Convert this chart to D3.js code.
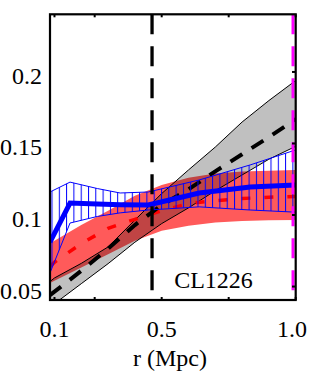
<!DOCTYPE html>
<html>
<head>
<meta charset="utf-8">
<script src="https://cdn.jsdelivr.net/npm/d3@7"></script>
<style>
  body { margin: 0; background: #fff; }
  text { font-family: "Liberation Serif", "Times New Roman", serif; fill: #000; }
</style>
</head>
<body>
<svg id="chart" width="309" height="384"></svg>
<script>
// radius grid of the model bands (Mpc)
var rModel = [0.0833, 0.1, 0.2, 0.3, 0.4, 0.5, 0.6, 0.7, 0.8, 0.9, 1.0];

// grey band + black dashed model
var greyMid = [0.0440, 0.0464, 0.061, 0.0765, 0.093, 0.107, 0.118, 0.1305, 0.1425, 0.1545, 0.167];
var greyLo  = [0.036, 0.038, 0.052, 0.066, 0.081, 0.094, 0.105, 0.117, 0.128, 0.139, 0.148];
var greyHi  = [0.0535, 0.056, 0.0662, 0.0777, 0.0965, 0.115, 0.1315, 0.1475, 0.165, 0.180, 0.194];

// red band + red dashed model
var redMid = [0.064, 0.067, 0.080, 0.0907, 0.097, 0.103, 0.108, 0.110, 0.1115, 0.1125, 0.113];
var redLo  = [0.0525, 0.054, 0.0633, 0.0725, 0.082, 0.089, 0.0925, 0.0947, 0.0958, 0.0963, 0.0966];
var redHi  = [0.0805, 0.082, 0.093, 0.103, 0.1135, 0.121, 0.126, 0.129, 0.1305, 0.131, 0.1315];

// blue measured profile with hatched errors
var rBlue   = [0.0833, 0.158, 0.26, 0.345, 0.45, 0.64, 0.83, 1.0];
var blueMid = [0.081, 0.1084, 0.1077, 0.1072, 0.107, 0.1154, 0.1196, 0.121];
var blueLo  = [0.0595, 0.0944, 0.099, 0.1015, 0.1035, 0.1057, 0.1035, 0.102];
var blueHi  = [0.1161, 0.123, 0.1185, 0.1154, 0.1161, 0.1245, 0.135, 0.1455];

var xTicks = [0.1, 0.25, 0.5, 0.75, 1.0];
var xTickLabels = ["0.1", "0.5", "1.0"];
var yTicks = [0.05, 0.1, 0.15, 0.2];
var yTickLabels = ["0.05", "0.1", "0.15", "0.2"];
var rVert = 0.464;   // black dashed vertical
var rEdge = 0.99;    // magenta dashed vertical

var svg = d3.select("#chart");
var x = d3.scaleLinear().domain([0.0833, 1.0]).range([50, 295.7]);
var y = d3.scaleLinear().domain([0.0406, 0.2403]).range([300, 14.3]);

svg.append("rect").attr("width", 309).attr("height", 384).attr("fill", "#fff");

var defs = svg.append("defs");
defs.append("clipPath").attr("id", "clip")
  .append("rect")
    .attr("x", x.range()[0]).attr("y", y.range()[1])
    .attr("width", x.range()[1] - x.range()[0])
    .attr("height", y.range()[0] - y.range()[1]);

var hatch = defs.append("pattern")
    .attr("id", "hatch")
    .attr("patternUnits", "userSpaceOnUse")
    .attr("width", 7.3).attr("height", 400)
    .attr("patternTransform", "translate(51.5,0)");
hatch.append("line")
    .attr("x1", 0.5).attr("x2", 0.5).attr("y1", 0).attr("y2", 400)
    .attr("stroke", "#0000ff").attr("stroke-width", 1);

var plot = svg.append("g").attr("clip-path", "url(#clip)");

function band(r, lo, hi) {
  return d3.area()
    .x((d, i) => x(r[i]))
    .y0((d, i) => y(lo[i]))
    .y1((d, i) => y(hi[i]))(r);
}
function curve(r, v) {
  return d3.line().x((d, i) => x(r[i])).y((d, i) => y(v[i]))(r);
}

// red band
plot.append("path")
  .attr("d", band(rModel, redLo, redHi))
  .attr("fill", "#ff5a5a");

// grey band, multiplied over the red
plot.append("path")
  .attr("d", band(rModel, greyLo, greyHi))
  .attr("fill", "#c0c0c0")
  .style("mix-blend-mode", "multiply");
[greyLo, greyHi].forEach(v => {
  plot.append("path")
    .attr("d", curve(rModel, v))
    .attr("fill", "none").attr("stroke", "#000").attr("stroke-width", 1);
});

// model centre lines
plot.append("path")
  .attr("d", curve(rModel, redMid))
  .attr("fill", "none").attr("stroke", "#ff0000").attr("stroke-width", 3.5)
  .attr("stroke-dasharray", "9,14");
plot.append("path")
  .attr("d", curve(rModel, greyMid))
  .attr("fill", "none").attr("stroke", "#000").attr("stroke-width", 4)
  .attr("stroke-dasharray", "14,11");

// blue hatched error region
plot.append("path")
  .attr("d", band(rBlue, blueLo, blueHi))
  .attr("fill", "url(#hatch)");
[blueLo, blueHi].forEach(v => {
  plot.append("path")
    .attr("d", curve(rBlue, v))
    .attr("fill", "none").attr("stroke", "#0000ff").attr("stroke-width", 1);
});
plot.append("path")
  .attr("d", curve(rBlue, blueMid))
  .attr("fill", "none").attr("stroke", "#0000ff").attr("stroke-width", 5);

// vertical markers
plot.append("line")
  .attr("x1", x(rVert)).attr("x2", x(rVert))
  .attr("y1", y.range()[1]).attr("y2", y.range()[0])
  .attr("stroke", "#000").attr("stroke-width", 3.3)
  .attr("stroke-dasharray", "20,12");
plot.append("line")
  .attr("x1", x(rEdge)).attr("x2", x(rEdge))
  .attr("y1", y.range()[1]).attr("y2", y.range()[0])
  .attr("stroke", "#ff00ff").attr("stroke-width", 3)
  .attr("stroke-dasharray", "20,12");

// frame and inward ticks
svg.append("rect")
  .attr("x", 50).attr("y", 14.3)
  .attr("width", 245.7).attr("height", 285.7)
  .attr("fill", "none").attr("stroke", "#000").attr("stroke-width", 2.2);

var ticks = svg.append("g").attr("stroke", "#000").attr("stroke-width", 2);
xTicks.forEach(t => {
  ticks.append("line").attr("x1", x(t)).attr("x2", x(t)).attr("y1", 300).attr("y2", 297);
  ticks.append("line").attr("x1", x(t)).attr("x2", x(t)).attr("y1", 14.3).attr("y2", 17.3);
});
yTicks.forEach(t => {
  ticks.append("line").attr("x1", 295.7).attr("x2", 292).attr("y1", y(t)).attr("y2", y(t));
});

// labels (the last x label is nudged in so it stays on the page)
svg.selectAll(".xl").data(xTickLabels).enter().append("text")
  .attr("x", d => Math.min(x(+d), 292)).attr("y", 337)
  .attr("text-anchor", "middle").attr("font-size", 24)
  .text(d => d);
svg.selectAll(".yl").data(yTickLabels).enter().append("text")
  .attr("x", 42).attr("y", d => y(+d) + 12)
  .attr("text-anchor", "end").attr("font-size", 24)
  .text(d => d);
svg.append("text")
  .attr("x", 170).attr("y", 366)
  .attr("text-anchor", "middle").attr("font-size", 24)
  .text("r (Mpc)");
svg.append("text")
  .attr("x", 213.5).attr("y", 288)
  .attr("text-anchor", "middle").attr("font-size", 24)
  .text("CL1226");
</script>
</body>
</html>
